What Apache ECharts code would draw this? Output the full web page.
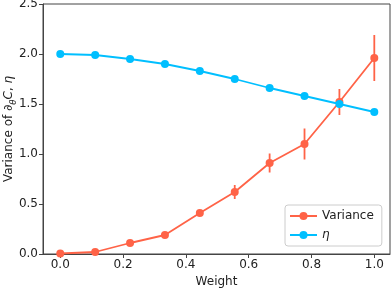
<!DOCTYPE html>
<html>
<head>
<meta charset="utf-8">
<script src="https://cdn.jsdelivr.net/npm/echarts@6/dist/echarts.min.js"></script>
<style>html,body{margin:0;padding:0;background:#fff}#c{width:392px;height:288px}</style>
</head>
<body>
<div id="c"></div>
<script>
var weights = [0, 1/9, 2/9, 3/9, 4/9, 5/9, 6/9, 7/9, 8/9, 1];
var varianceValues = [0.005, 0.02, 0.11, 0.19, 0.41, 0.62, 0.91, 1.10, 1.52, 1.96];
var varianceErrors = [0.005, 0.01, 0.015, 0.02, 0.025, 0.07, 0.095, 0.155, 0.13, 0.23];
var etaValues = [2.00, 1.99, 1.95, 1.90, 1.83, 1.75, 1.66, 1.58, 1.50, 1.42];
var xTicks = [0, 0.2, 0.4, 0.6, 0.8, 1.0];

var chart = echarts.init(document.getElementById('c'), null, {renderer: 'canvas'});
var font = 'DejaVu Sans';
var red = '#FF6347', blue = '#00BFFF';
var fs = 12;

function pairs(vals) { return weights.map(function (w, i) { return [w, vals[i]]; }); }

chart.setOption({
  animation: false,
  textStyle: {fontFamily: font},
  grid: {left: 43, top: 4, right: 2, bottom: 34, show: true, borderColor: '#444', borderWidth: 1,
    containLabel: false, outerBoundsMode: 'none'},
  legend: {
    orient: 'vertical', left: 285, top: 205,
    data: ['Variance', 'η'],
    itemWidth: 27, itemHeight: 10, itemGap: 7,
    padding: [5, 8, 5, 4],
    borderColor: '#cccccc', borderWidth: 1, borderRadius: 3,
    backgroundColor: 'rgba(255,255,255,0.8)',
    textStyle: {fontFamily: font, fontSize: fs, color: '#222',
      rich: {i: {fontStyle: 'italic', fontFamily: font, fontSize: fs, color: '#222'}}},
    formatter: function (n) { return n === 'η' ? '{i|η}' : n; },
    selectedMode: false
  },
  xAxis: {
    type: 'value', min: -0.055, max: 1.05,
    name: 'Weight', nameLocation: 'middle', nameGap: 22, nameMoveOverlap: false,
    nameTextStyle: {fontFamily: font, fontSize: fs, color: '#222'},
    axisLine: {show: true, onZero: false, lineStyle: {color: '#444'}},
    axisTick: {show: true, customValues: xTicks, length: 4, lineStyle: {color: '#444'}},
    axisLabel: {customValues: xTicks, fontFamily: font, fontSize: fs, color: '#222', margin: 5,
      formatter: function (v) { return v.toFixed(1); }},
    splitLine: {show: false}
  },
  yAxis: {
    type: 'value', min: 0, max: 2.5, interval: 0.5,
    name: 'Variance of ∂{sub|θ}{i|C}, {i|η}', nameLocation: 'middle', nameGap: 28, nameRotate: 90,
    nameMoveOverlap: false,
    nameTextStyle: {fontFamily: font, fontSize: fs, color: '#222',
      rich: {sub: {fontSize: 8.5, fontStyle: 'italic', fontFamily: font, color: '#222', verticalAlign: 'bottom', padding: [0,0,-3,0]},
             i: {fontStyle: 'italic', fontFamily: font, fontSize: fs, color: '#222'}}},
    axisLine: {show: true, onZero: false, lineStyle: {color: '#444'}},
    axisTick: {show: true, length: 4, lineStyle: {color: '#444'}},
    axisLabel: {fontFamily: font, fontSize: fs, color: '#222', margin: 5,
      formatter: function (v) { return v.toFixed(1); }},
    splitLine: {show: false}
  },
  series: [
    {
      name: 'errbars', type: 'custom', z: 3,
      data: weights.map(function (w, i) { return [w, varianceValues[i], varianceErrors[i]]; }),
      renderItem: function (params, api) {
        var x = api.value(0), y = api.value(1), e = api.value(2);
        var p1 = api.coord([x, y - e]), p2 = api.coord([x, y + e]);
        return {type: 'line', shape: {x1: p1[0], y1: p1[1], x2: p2[0], y2: p2[1]},
          style: {stroke: red, lineWidth: 1.8}};
      },
      silent: true
    },
    {
      name: 'Variance', type: 'line', data: pairs(varianceValues), z: 4,
      symbol: 'circle', symbolSize: 8, color: red,
      lineStyle: {color: red, width: 1.8}, itemStyle: {color: red}
    },
    {
      name: 'η', type: 'line', data: pairs(etaValues), z: 5,
      symbol: 'circle', symbolSize: 8, color: blue,
      lineStyle: {color: blue, width: 1.8}, itemStyle: {color: blue}
    }
  ]
});
</script>
</body>
</html>
